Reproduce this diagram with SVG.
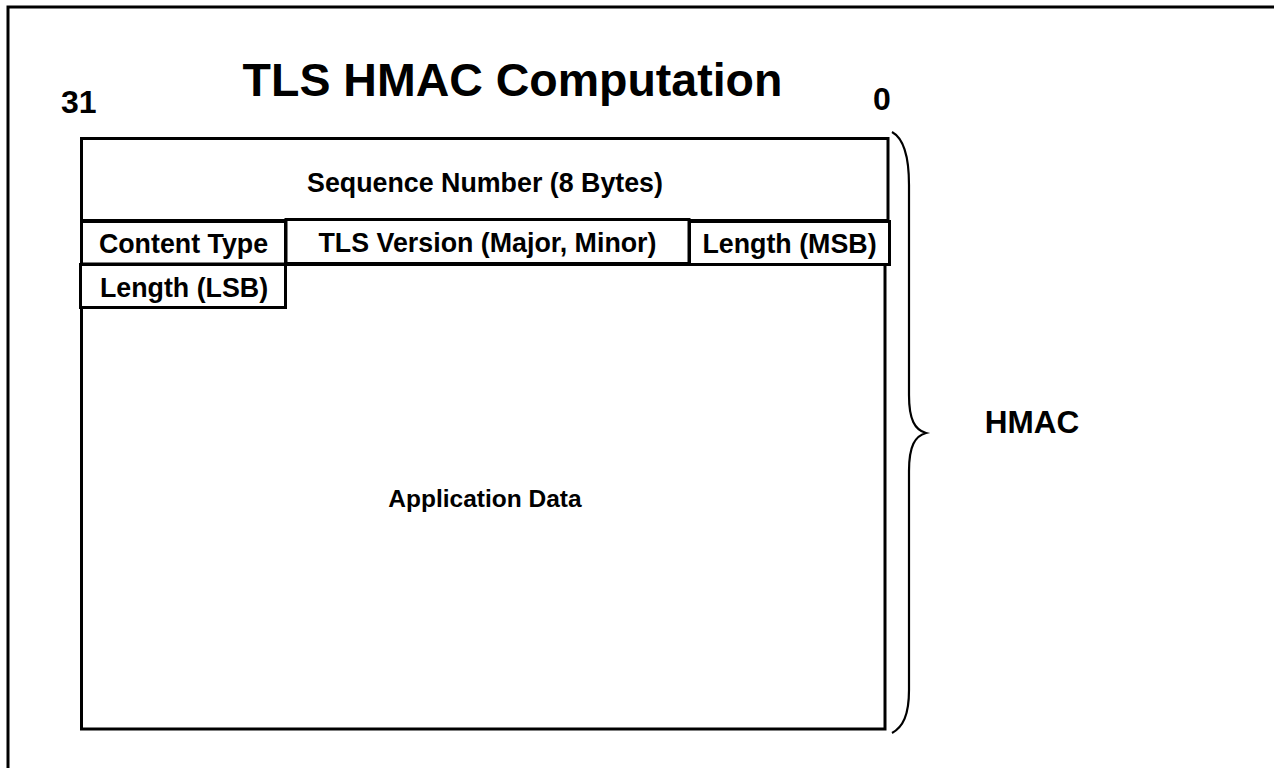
<svg xmlns="http://www.w3.org/2000/svg" width="1274" height="768" viewBox="0 0 1274 768">
  <style>
    text { font-family: "Liberation Sans", Arial, sans-serif; font-weight: bold; fill: #000; }
    .field { fill: #fff; stroke: #000; stroke-width: 3; }
    .lbl { font-size: 26.8px; text-anchor: middle; }
    .bit { font-size: 32px; }
    .frame { fill: none; stroke: #000; stroke-width: 3; }
    .brace { fill: none; stroke: #000; stroke-width: 2.2; }
  </style>
  <rect width="1274" height="768" fill="#fff"/>
  <!-- page frame, running off the right and bottom edges -->
  <rect class="frame" x="8" y="7" width="1300" height="800"/>

  <text x="512.5" y="96" font-size="46.5" text-anchor="middle">TLS HMAC Computation</text>
  <text class="bit" x="61" y="113">31</text>
  <text class="bit" x="873" y="110">0</text>

  <g id="application-data">
    <rect class="field" x="81.5" y="264.5" width="803.5" height="464.5"/>
    <text x="485" y="507" font-size="24.5" text-anchor="middle">Application Data</text>
  </g>
  <g id="sequence-number">
    <rect class="field" x="81.5" y="138.5" width="806.5" height="82"/>
    <text class="lbl" x="485" y="191.5">Sequence Number (8 Bytes)</text>
  </g>
  <g id="content-type">
    <rect class="field" x="81.5" y="221.5" width="204" height="42.5"/>
    <text class="lbl" x="183.5" y="253">Content Type</text>
  </g>
  <g id="tls-version">
    <rect class="field" x="286" y="219.5" width="403" height="44"/>
    <text class="lbl" x="487.5" y="252">TLS Version (Major, Minor)</text>
  </g>
  <g id="length-msb">
    <rect class="field" x="689.5" y="221.5" width="200" height="43"/>
    <text class="lbl" x="789.5" y="253">Length (MSB)</text>
  </g>
  <g id="length-lsb">
    <rect class="field" x="80.5" y="264.5" width="205" height="43"/>
    <text class="lbl" x="184" y="297">Length (LSB)</text>
  </g>

  <g id="connectors">
    <path class="brace" d="M892,132 C903,138 909,155 909,185 L909,395 C909,420 915,430 926,433 C915,436 909,446 909,471 L909,690 C909,715 903,727 892,733"/>
  </g>
  <g id="hmac">
    <text x="1032" y="433" font-size="31.5" text-anchor="middle">HMAC</text>
  </g>
</svg>
